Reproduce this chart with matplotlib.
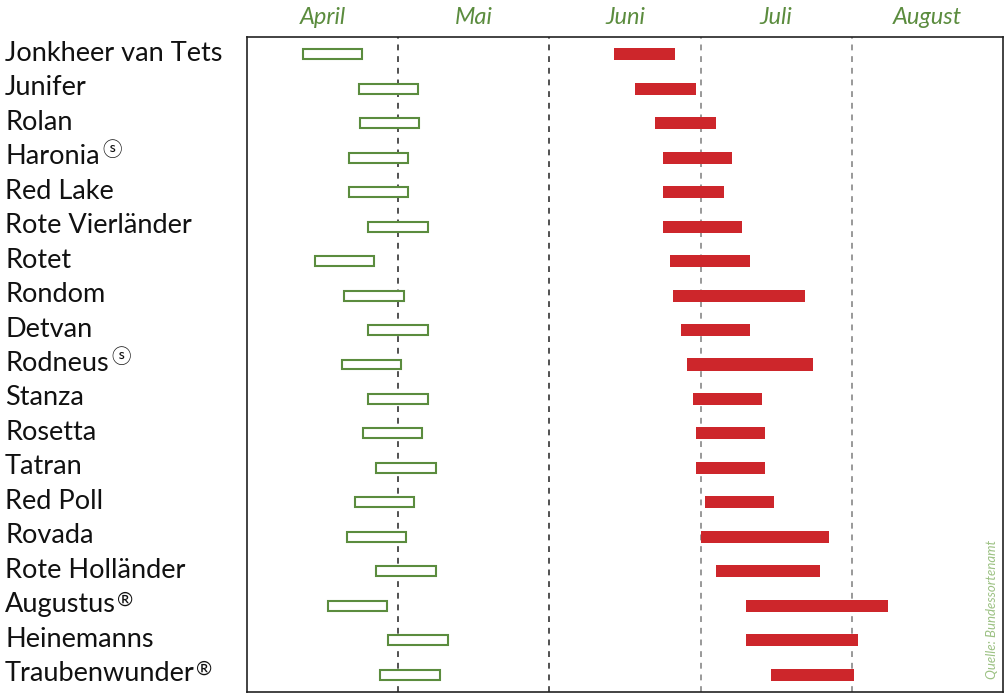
import matplotlib
matplotlib.use("Agg")
import matplotlib.pyplot as plt
from matplotlib.patches import Rectangle

# Varieties (top to bottom)
varieties = ["Jonkheer van Tets", "Junifer", "Rolan", "Haronia", "Red Lake",
             "Rote Vierländer", "Rotet", "Rondom", "Detvan", "Rodneus", "Stanza",
             "Rosetta", "Tatran", "Red Poll", "Rovada", "Rote Holländer",
             "Augustus", "Heinemanns", "Traubenwunder"]
# superscript marks after names
marks = ["", "", "", "ⓢ", "", "", "", "", "", "ⓢ", "", "", "", "", "", "",
         "®", "", "®"]

# Blossom period (days after 1 April, 30-day month scale)
bloom_start = [11.1, 22.3, 22.4, 20.3, 20.3, 24.0, 13.5, 19.3, 24.0, 18.9,
               24.0, 23.0, 25.6, 21.5, 19.9, 25.6, 16.1, 28.0, 26.4]
bloom_end = [22.8, 34.0, 34.2, 32.0, 32.0, 36.0, 25.2, 31.2, 36.0, 30.6,
             36.0, 34.8, 37.5, 33.2, 31.6, 37.5, 27.8, 39.9, 38.3]

# Harvest period
harvest_start = [72.9, 76.9, 80.9, 82.5, 82.5, 82.5, 84.0, 84.6, 86.2, 87.4,
                 88.4, 89.0, 89.0, 90.8, 90.0, 93.0, 99.1, 99.1, 103.9]
harvest_end = [85.0, 89.0, 93.0, 96.2, 94.6, 98.3, 99.9, 110.7, 99.9, 112.3,
               102.1, 102.7, 102.7, 104.5, 115.4, 113.6, 127.2, 121.2, 120.4]

months = ["April", "Mai", "Juni", "Juli", "August"]
month_len = 30

green = "#5b8c3e"
red = "#cd262b"

fig = plt.figure(figsize=(10.05, 6.93), dpi=100)
ax = fig.add_axes([247 / 1005, 1 - 692 / 693, (1003 - 247) / 1005, 655 / 693])
n = len(varieties)
ax.set_xlim(0, month_len * len(months))
ax.set_ylim(n - 0.5, -0.5)
ax.set_xticks([])
ax.set_yticks([])
for s in ax.spines.values():
    s.set_color("#222222")
    s.set_linewidth(1.2)

# month separators
for i in range(1, len(months)):
    col = "#333333" if i <= 2 else "#888888"
    ax.axvline(i * month_len, color=col, lw=1.2, ls=(0, (3.5, 3.5)), zorder=1)

for i in range(n):
    h1 = 0.29
    ax.add_patch(Rectangle((bloom_start[i], i - h1 / 2), bloom_end[i] - bloom_start[i], h1,
                           facecolor="white", edgecolor=green, lw=1.5, zorder=3))
    h2 = 0.35
    ax.add_patch(Rectangle((harvest_start[i], i - h2 / 2), harvest_end[i] - harvest_start[i], h2,
                           facecolor=red, edgecolor="none", zorder=3))

# month labels
for i, m in enumerate(months):
    ax.text((i + 0.5) * month_len, -0.5 - 0.57, m, ha="center", va="center",
            fontsize=17, style="italic", color=green, family="Lato", clip_on=False)

# variety labels
fig.canvas.draw()
renderer = fig.canvas.get_renderer()
label_texts = []
for i, v in enumerate(varieties):
    ytrans = ax.transData.transform((0, i))[1] / 693 + 1 / 693
    t = fig.text(5 / 1005, ytrans, v, ha="left", va="center", fontsize=19.5,
                 family="Lato", color="#111111")
    label_texts.append((t, ytrans))
fig.canvas.draw()
for i, (t, ytrans) in enumerate(label_texts):
    if marks[i]:
        bb = t.get_window_extent(renderer)
        if marks[i] == "ⓢ":
            fig.text((bb.x1 + 3) / 1005, ytrans + 6 / 693, marks[i], ha="left", va="center",
                     fontsize=14, family=["Noto Sans CJK JP", "DejaVu Sans"], color="#111111")
        else:
            fig.text((bb.x1 + 1) / 1005, ytrans + 5 / 693, marks[i], ha="left", va="center",
                     fontsize=14, family="Lato", color="#111111")

# source
ax.text(0.985, 0.02, "Quelle: Bundessortenamt", transform=ax.transAxes, rotation=90,
        ha="center", va="bottom", fontsize=9.5, style="italic", color="#9cc183", family="Lato")

fig.savefig("out.png", dpi=100)
